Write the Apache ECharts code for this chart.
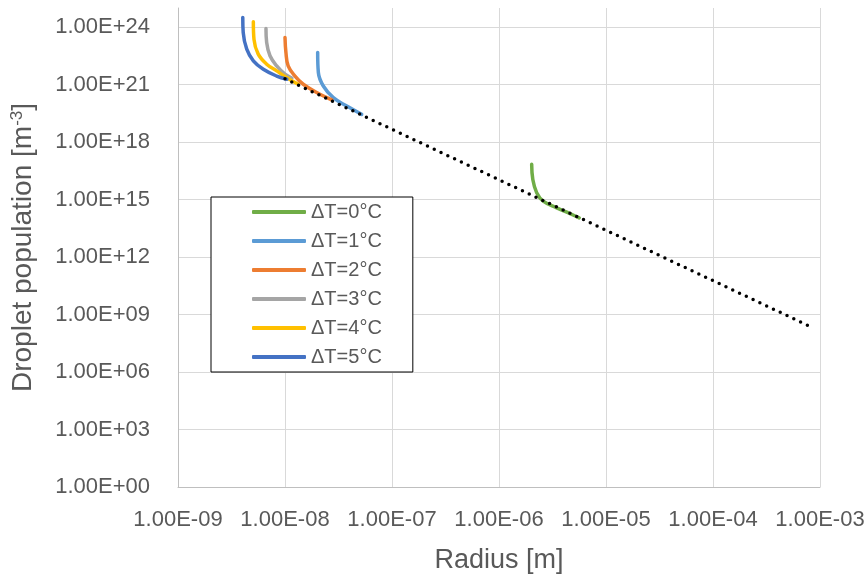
<!DOCTYPE html>
<html>
<head>
<meta charset="utf-8">
<script src="https://cdn.jsdelivr.net/npm/echarts@6/dist/echarts.min.js"></script>
<style>
html, body { margin: 0; padding: 0; background: #fff; }
#chart { width: 868px; height: 579px; }
</style>
</head>
<body>
<div id="chart"></div>
<script>
// values
var seriesNames = ['ΔT=0°C', 'ΔT=1°C', 'ΔT=2°C', 'ΔT=3°C', 'ΔT=4°C', 'ΔT=5°C'];
var seriesColors = ['#70AD47', '#5B9BD5', '#ED7D31', '#A5A5A5', '#FFC000', '#4472C4'];

var radius0 = [2.02e-6, 2.07e-6, 2.25e-6, 2.59e-6, 3.46e-6, 4.61e-6, 5.62e-6];
var pop0    = [6.9e16, 1.12e16, 2.3e15, 8.3e14, 3.7e14, 1.86e14, 1.12e14];

var radius1 = [2.02e-8, 2.05e-8, 2.28e-8, 2.83e-8, 3.78e-8, 5.21e-8];
var pop1    = [4.8e22, 4.3e21, 8.5e20, 2.1e20, 7.6e19, 2.8e19];

var radius2 = [1.00e-8, 1.02e-8, 1.07e-8, 1.24e-8, 1.48e-8, 1.98e-8, 2.74e-8];
var pop2    = [2.9e23, 4.8e22, 9.5e21, 2.8e21, 1.05e21, 3.9e20, 1.6e20];

var radius3 = [6.64e-9, 6.74e-9, 7.24e-9, 8.36e-9, 1.0e-8, 1.16e-8];
var pop3    = [8.5e23, 1.6e23, 3.2e22, 9.5e21, 3.5e21, 2.2e21];

var radius4 = [5.06e-9, 5.13e-9, 5.62e-9, 6.74e-9, 8.36e-9, 1.04e-8, 1.33e-8];
var pop4    = [1.9e24, 2.3e23, 3.9e22, 1.17e22, 5.2e21, 2.3e21, 1.05e21];

var radius5 = [4.03e-9, 4.07e-9, 4.39e-9, 5.06e-9, 6.27e-9, 8.36e-9, 1.04e-8];
var pop5    = [3.2e24, 5.2e23, 7.1e22, 1.74e22, 6.3e21, 2.8e21, 1.9e21];

// dotted trend line
var trendRadius = [1.0e-8, 8.5e-4];
var trendPop    = [2.0e21, 2.1e8];

var xTickLabels = ['1.00E-09', '1.00E-08', '1.00E-07', '1.00E-06', '1.00E-05', '1.00E-04', '1.00E-03'];
var yTickLabels = ['1.00E+00', '1.00E+03', '1.00E+06', '1.00E+09', '1.00E+12', '1.00E+15', '1.00E+18', '1.00E+21', '1.00E+24'];

var radiusList = [radius0, radius1, radius2, radius3, radius4, radius5];
var popList = [pop0, pop1, pop2, pop3, pop4, pop5];

function zip(xs, ys) {
    var out = [];
    for (var i = 0; i < xs.length; i++) out.push([xs[i], ys[i]]);
    return out;
}
function tickLabel(list, v) {
    var e = Math.round(Math.log10(v));
    for (var i = 0; i < list.length; i++) {
        if (Math.round(Math.log10(Number(list[i]))) === e) return list[i];
    }
    return '';
}

var font = 'Liberation Sans';
var txt = '#595959';

var series = [];
for (var i = 0; i < seriesNames.length; i++) {
    series.push({
        name: seriesNames[i],
        type: 'line',
        smooth: 0.4,
        symbol: 'none',
        color: seriesColors[i],
        lineStyle: { width: 3.5, color: seriesColors[i], cap: 'round' },
        data: zip(radiusList[i], popList[i]),
        z: 2 + i
    });
}
series.push({
    name: 'trend',
    type: 'line',
    symbol: 'none',
    lineStyle: { width: 3.5, color: '#000', type: [0, 7.5], cap: 'round' },
    data: zip(trendRadius, trendPop),
    z: 20
});

var myChart = echarts.init(document.getElementById('chart'));
var option = {
    backgroundColor: '#fff',
    animation: false,
    grid: { left: 178, right: 48, top: 8, bottom: 92, containLabel: false, outerBoundsMode: 'none' },
    legend: {
        data: seriesNames,
        orient: 'vertical',
        left: 211,
        top: 197,
        padding: [5, 31, 5, 41],
        icon: 'roundRect',
        itemWidth: 54,
        itemHeight: 4,
        itemGap: 9,
        borderColor: '#000',
        borderWidth: 1,
        borderRadius: 0,
        backgroundColor: '#fff',
        textStyle: { fontFamily: font, fontSize: 20, color: txt, lineHeight: 20, padding: [0, 0, 0, 0] }
    },
    xAxis: {
        type: 'log',
        logBase: 10,
        min: 1e-9,
        max: 1e-3,
        interval: 1,
        name: 'Radius [m]',
        nameLocation: 'middle',
        nameGap: 60,
        nameTextStyle: { fontFamily: font, fontSize: 27, color: txt },
        axisLine: { show: true, lineStyle: { color: '#BFBFBF', width: 1 } },
        axisTick: { show: false },
        minorTick: { show: false },
        axisLabel: {
            margin: 22,
            fontFamily: font, fontSize: 22, color: txt,
            formatter: function (v) { return tickLabel(xTickLabels, v); }
        },
        splitLine: { show: true, lineStyle: { color: '#D9D9D9', width: 1 } }
    },
    yAxis: {
        type: 'log',
        logBase: 10,
        min: 1,
        max: 1e25,
        interval: 3,
        name: 'Droplet population [m{sup|-3}]',
        nameLocation: 'middle',
        nameGap: 141,
        nameTextStyle: {
            fontFamily: font, fontSize: 28, color: txt,
            rich: { sup: { fontFamily: font, fontSize: 17, color: txt, verticalAlign: 'top', padding: [0, 0, 10, 0] } }
        },
        axisLine: { show: true, lineStyle: { color: '#BFBFBF', width: 1 } },
        axisTick: { show: false },
        minorTick: { show: false },
        axisLabel: {
            margin: 28,
            showMaxLabel: false,
            fontFamily: font, fontSize: 22, color: txt,
            formatter: function (v) { return tickLabel(yTickLabels, v); }
        },
        splitLine: { show: true, showMaxLine: false, lineStyle: { color: '#D9D9D9', width: 1 } }
    },
    series: series
};
myChart.setOption(option);
</script>
</body>
</html>
